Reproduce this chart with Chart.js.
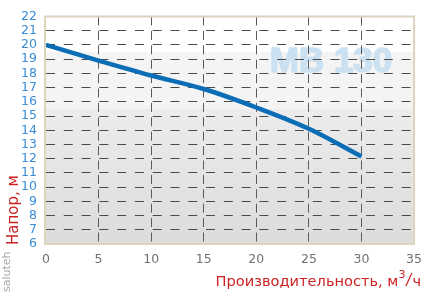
<!DOCTYPE html>
<html>
<head>
<meta charset="utf-8">
<script src="https://cdn.jsdelivr.net/npm/chart.js@4.4.0/dist/chart.umd.min.js"></script>
<style>
  html, body { margin: 0; padding: 0; background: #fff; }
  #pumpChart { display: block; }
</style>
</head>
<body>
<canvas id="pumpChart" width="430" height="294"></canvas>
<script>
// данные кривой насоса
const flowValues = [0, 5, 10, 15, 20, 25, 30];
const headValues = [20.0, 18.9, 17.85, 16.9, 15.6, 14.1, 12.15];
const xTickValues = [0, 5, 10, 15, 20, 25, 30, 35];
const yTickValues = [6, 7, 8, 9, 10, 11, 12, 13, 14, 15, 16, 17, 18, 19, 20, 21, 22];
const modelName = 'MB 130';
const yTitle = 'Напор, м';
const xTitle = 'Производительность, м';
const brand = 'saluteh';

const tickFont = { family: '"DejaVu Sans", sans-serif', size: 12.5 };

const backgroundPlugin = {
  id: 'bg',
  beforeDraw(chart) {
    const { ctx, chartArea: a, scales: { y } } = chart;
    const y1 = y.getPixelForValue(19.5);
    const y2 = y.getPixelForValue(15.5);
    ctx.save();
    ctx.fillStyle = '#ffffff';
    ctx.fillRect(a.left, a.top, a.right - a.left, y1 - a.top);
    ctx.fillStyle = '#f4f4f4';
    ctx.fillRect(a.left, y1, a.right - a.left, y2 - y1);
    const g = ctx.createLinearGradient(0, y2, 0, a.bottom);
    g.addColorStop(0, '#ececec');
    g.addColorStop(1, '#dcdcdc');
    ctx.fillStyle = g;
    ctx.fillRect(a.left, y2, a.right - a.left, a.bottom - y2);

    // водяной знак модели (под сеткой)
    ctx.fillStyle = '#cbe1f1';
    ctx.strokeStyle = '#cbe1f1';
    ctx.lineWidth = 1.6;
    ctx.lineJoin = 'round';
    ctx.font = 'bold 35px "Liberation Sans", Arial, sans-serif';
    ctx.textAlign = 'center';
    ctx.textBaseline = 'alphabetic';
    ctx.fillText(modelName, 331, 72);
    ctx.strokeText(modelName, 331, 72);
    ctx.restore();
  },
  beforeDatasetsDraw(chart) {
    const { ctx, chartArea: a } = chart;
    ctx.save();
    ctx.strokeStyle = '#ddd4bd';
    ctx.lineWidth = 2;
    ctx.strokeRect(a.left - 1, a.top, a.right - a.left + 1, a.bottom - a.top);
    ctx.restore();
  },
  afterDraw(chart) {
    const { ctx, chartArea: a } = chart;
    ctx.save();
    // подпись оси Y
    ctx.fillStyle = '#cc2222';
    ctx.font = '15px "DejaVu Sans", sans-serif';
    ctx.textBaseline = 'alphabetic';
    ctx.textAlign = 'left';
    ctx.translate(18, a.bottom + 1);
    ctx.rotate(-Math.PI / 2);
    ctx.fillText(yTitle, 0, 0);
    ctx.restore();

    ctx.save();
    ctx.fillStyle = '#a8a8a8';
    ctx.font = '11px "DejaVu Sans", sans-serif';
    ctx.translate(10, 292);
    ctx.rotate(-Math.PI / 2);
    ctx.fillText(brand, 0, 0);
    ctx.restore();

    // подпись оси X с м3/ч
    ctx.save();
    ctx.fillStyle = '#cc2222';
    const mainFont = '14.6px "DejaVu Sans", sans-serif';
    const supFont = '11px "DejaVu Sans", sans-serif';
    ctx.font = mainFont;
    const wMain = ctx.measureText(xTitle).width;
    const wCh = ctx.measureText('ч').width;
    ctx.font = supFont;
    const wSup = ctx.measureText('3').width;
    const wSlash = 7;
    const right = 421;
    const base = 286;
    let x = right - (wMain + wSup + wSlash + wCh);
    ctx.font = mainFont;
    ctx.fillText(xTitle, x, base);
    x += wMain;
    ctx.font = supFont;
    ctx.fillText('3', x, base - 8);
    x += wSup;
    ctx.strokeStyle = '#cc2222';
    ctx.lineWidth = 1.2;
    ctx.beginPath();
    ctx.moveTo(x + 0.5, base);
    ctx.lineTo(x + wSlash - 0.5, base - 13);
    ctx.stroke();
    x += wSlash;
    ctx.font = mainFont;
    ctx.fillText('ч', x, base);
    ctx.restore();
  }
};

const config = {
  type: 'line',
  data: {
    datasets: [{
      data: flowValues.map((f, i) => ({ x: f, y: headValues[i] })),
      borderColor: '#0b6db6',
      borderWidth: 4.5,
      pointRadius: 0,
      fill: false,
      cubicInterpolationMode: 'monotone',
      borderCapStyle: 'butt'
    }]
  },
  options: {
    responsive: false,
    animation: false,
    devicePixelRatio: 1,
    layout: { padding: { top: 13, right: 11, left: 0, bottom: 0 } },
    plugins: { legend: { display: false }, tooltip: { enabled: false } },
    scales: {
      x: {
        type: 'linear',
        min: 0,
        max: 35,
        afterBuildTicks: (s) => { s.ticks = xTickValues.map(v => ({ value: v })); },
        afterFit: (s) => { s.height = 50; },
        grid: {
          drawTicks: false,
          lineWidth: 1,
          color: (c) => (c.tick && (c.tick.value === 0 || c.tick.value === 35)) ? 'rgba(0,0,0,0)' : '#5a5a5a'
        },
        border: { display: false, dash: [9, 5.4] },
        ticks: { color: '#707070', font: tickFont, padding: 8, maxRotation: 0, autoSkip: false }
      },
      y: {
        min: 6,
        max: 22,
        afterBuildTicks: (s) => { s.ticks = yTickValues.map(v => ({ value: v })); },
        afterFit: (s) => { s.width = 46; },
        grid: {
          drawTicks: false,
          lineWidth: 1,
          color: (c) => (c.tick && (c.tick.value === 6 || c.tick.value === 22)) ? 'rgba(0,0,0,0)' : '#4a4a4a'
        },
        border: { display: false, dash: [9, 8.78] },
        ticks: { color: '#3a8dd4', font: tickFont, padding: 9, autoSkip: false }
      }
    }
  },
  plugins: [backgroundPlugin]
};

const pumpChart = new Chart(document.getElementById('pumpChart').getContext('2d'), config);
</script>
</body>
</html>
